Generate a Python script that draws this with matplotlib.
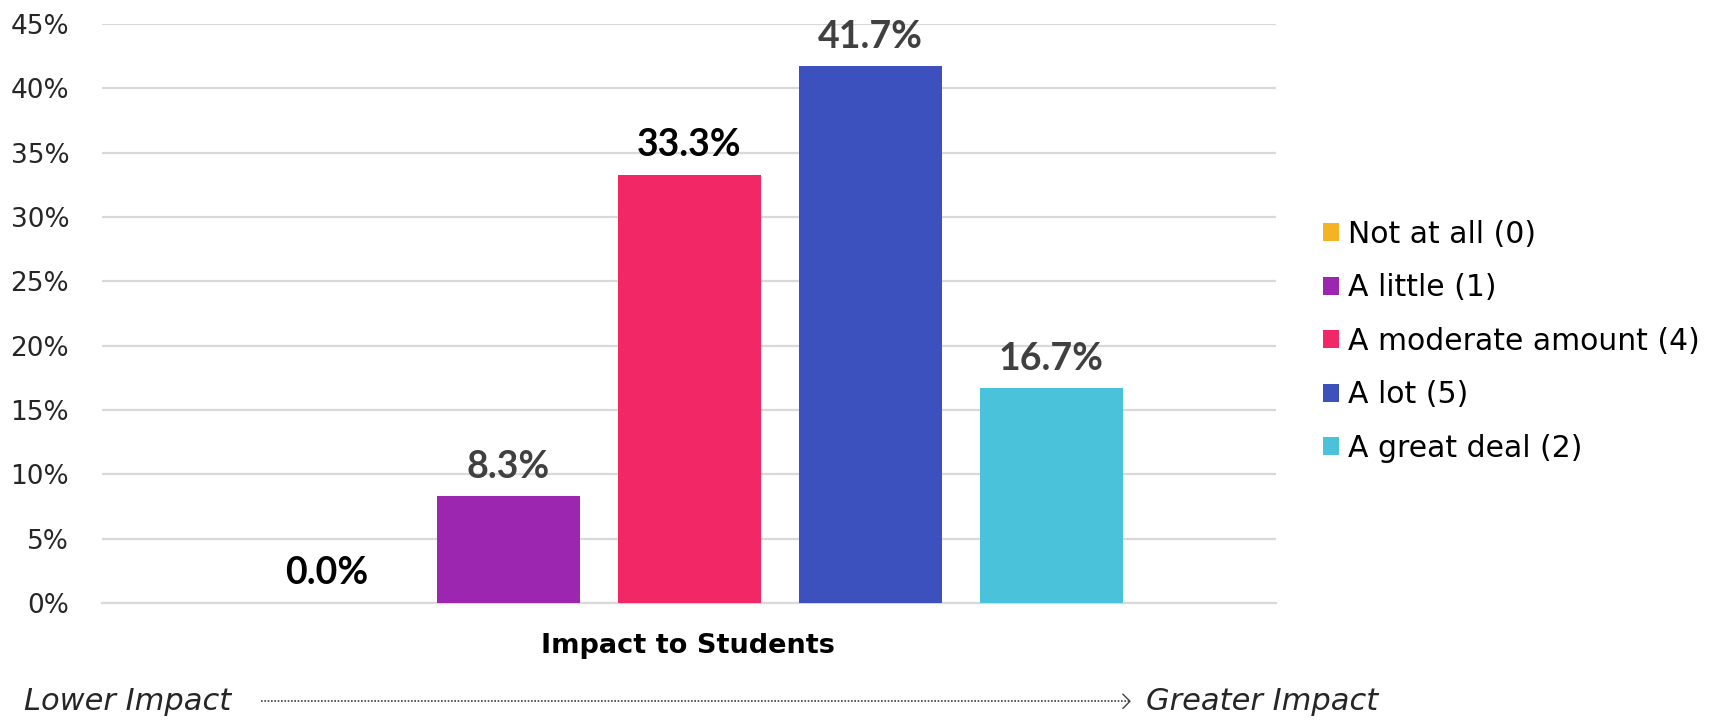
import matplotlib.pyplot as plt
import numpy as np
from matplotlib.lines import Line2D

# Data
categories = ['Not at all (0)', 'A little (1)', 'A moderate amount (4)',
              'A lot (5)', 'A great deal (2)']
percent = [0.0, 8.3, 33.3, 41.7, 16.7]
y_ticks = [0, 5, 10, 15, 20, 25, 30, 35, 40, 45]
axis_title = 'Impact to Students'
low_text = 'Lower Impact'
high_text = 'Greater Impact'

# Styles
bar_colors = ['#F5B324', '#9D26B0', '#F22766', '#3C51BD', '#4AC3DA']
label_colors = ['#000000', '#404040', '#000000', '#404040', '#404040']

plt.rcParams['font.family'] = ['DejaVu Sans']

fig = plt.figure(figsize=(17.28, 7.2), dpi=100)
fig.patch.set_facecolor('white')
ax = fig.add_axes([0.0593, 0.1625, 0.6791, 0.8042])

x = np.arange(len(categories))
bars = ax.bar(x, percent, width=0.79, color=bar_colors, zorder=3)

# Data labels
for xi, val, col in zip(x, percent, label_colors):
    ax.annotate(f'{val:.1f}%', xy=(xi, val), xytext=(0, 9),
                textcoords='offset points', ha='center', va='bottom',
                fontsize=27, fontweight='bold', color=col,
                family=['Lato', 'DejaVu Sans'])

ax.set_xlim(-1.24, 5.24)
ax.set_ylim(0, 45)
ax.set_yticks(y_ticks)
ax.set_yticklabels([f'{t}%' for t in y_ticks], fontsize=19, color='#262626')
ax.tick_params(axis='y', length=0, pad=24)
ax.set_xticks([])

ax.yaxis.grid(True, color='#D9D9D9', linewidth=1.6, zorder=0)
ax.set_axisbelow(True)
for side in ['top', 'right', 'left']:
    ax.spines[side].set_visible(False)
ax.spines['bottom'].set_color('#D9D9D9')
ax.spines['bottom'].set_linewidth(1.6)

# Legend
ax.legend(bars, categories, loc='center left', bbox_to_anchor=(0.757, 0.526),
          bbox_transform=fig.transFigure, frameon=False, fontsize=21.5,
          handlelength=0.55, handleheight=0.55, handletextpad=0.3,
          labelspacing=0.82, borderpad=0, labelcolor='#000000')

# Axis title
fig.text(0.398, 0.103, axis_title, ha='center', va='center',
         fontsize=19.5, fontweight='bold', color='#000000')

# Bottom scale: Lower Impact ---> Greater Impact
y_arrow = 0.026
fig.text(0.014, y_arrow, low_text, ha='left', va='center', fontsize=22,
         style='italic', color='#262626')
fig.text(0.663, y_arrow, high_text, ha='left', va='center', fontsize=22,
         style='italic', color='#262626')
x0, x1 = 261 / 1728, 1130 / 1728
fig.add_artist(Line2D([x0, x1], [y_arrow, y_arrow], transform=fig.transFigure,
                      linestyle=(0, (1, 1)), linewidth=1.2, color='#404040'))
dx, dy = 7 / 1728, 7 / 720
fig.add_artist(Line2D([x1 - dx, x1, x1 - dx], [y_arrow + dy, y_arrow, y_arrow - dy],
                      transform=fig.transFigure, linewidth=1.0, color='#404040'))

fig.savefig('out.png', dpi=100, facecolor='white')
